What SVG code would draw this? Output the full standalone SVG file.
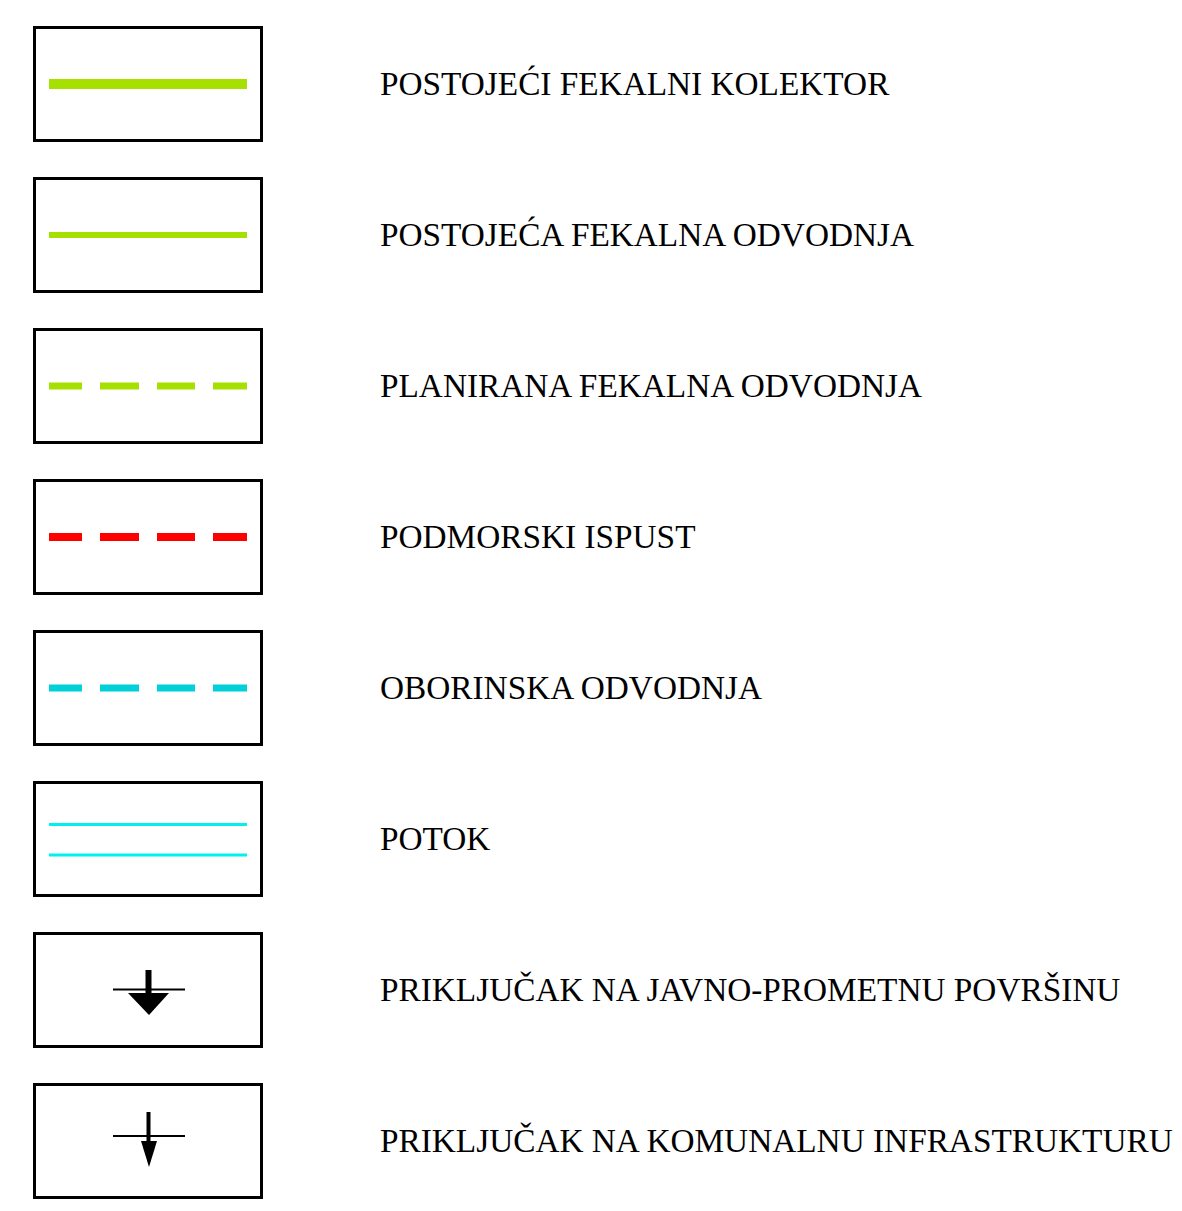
<svg xmlns="http://www.w3.org/2000/svg" width="1182" height="1211" viewBox="0 0 1182 1211">
<style>
.box{fill:#fff;stroke:#000;stroke-width:3}
.lbl{font-family:"Liberation Serif","Times New Roman",serif;font-size:33.3px;fill:#000}
.green{stroke:#a5e000;fill:none}
</style>
<rect width="1182" height="1211" fill="#fff"/>
<g id="n1"><rect class="box" x="34.5" y="27.5" width="227" height="113"/><line class="green" x1="49" y1="84" x2="247" y2="84" stroke-width="10"/><text class="lbl" x="380" y="95">POSTOJEĆI FEKALNI KOLEKTOR</text></g>
<g id="n2"><rect class="box" x="34.5" y="178.5" width="227" height="113"/><line class="green" x1="49" y1="235" x2="247" y2="235" stroke-width="6"/><text class="lbl" x="380" y="246">POSTOJEĆA FEKALNA ODVODNJA</text></g>
<g id="n3"><rect class="box" x="34.5" y="329.5" width="227" height="113"/><path class="green" d="M49 386H82M100 386H139M157 386H195M213 386H247" stroke-width="7"/><text class="lbl" x="380" y="397">PLANIRANA FEKALNA ODVODNJA</text></g>
<g id="n4"><rect class="box" x="34.5" y="480.5" width="227" height="113"/><path d="M49 537H82M100 537H139M157 537H195M213 537H247" stroke="#ff0000" stroke-width="8" fill="none"/><text class="lbl" x="380" y="548">PODMORSKI ISPUST</text></g>
<g id="n5"><rect class="box" x="34.5" y="631.5" width="227" height="113"/><path d="M49 688H82M100 688H139M157 688H195M213 688H247" stroke="#00d0d8" stroke-width="7" fill="none"/><text class="lbl" x="380" y="699">OBORINSKA ODVODNJA</text></g>
<g id="n6"><rect class="box" x="34.5" y="782.5" width="227" height="113"/><path d="M49 824.5H247M49 855H247" stroke="#00f0f0" stroke-width="3" fill="none"/><text class="lbl" x="380" y="850">POTOK</text></g>
<g id="n7"><rect class="box" x="34.5" y="933.5" width="227" height="113"/><line x1="113" y1="989.5" x2="185" y2="989.5" stroke="#000" stroke-width="2"/><line x1="148.5" y1="970" x2="148.5" y2="995" stroke="#000" stroke-width="6"/><polygon points="128,993 169,993 149,1015"/><text class="lbl" x="380" y="1001">PRIKLJUČAK NA JAVNO-PROMETNU POVRŠINU</text></g>
<g id="n8"><rect class="box" x="34.5" y="1084.5" width="227" height="113"/><line x1="113" y1="1136" x2="185" y2="1136" stroke="#000" stroke-width="2"/><line x1="148.5" y1="1112" x2="148.5" y2="1145" stroke="#000" stroke-width="4"/><polygon points="141,1141 157,1141 149,1167"/><text class="lbl" x="380" y="1152">PRIKLJUČAK NA KOMUNALNU INFRASTRUKTURU</text></g>
<g id="connectors"/>
</svg>
